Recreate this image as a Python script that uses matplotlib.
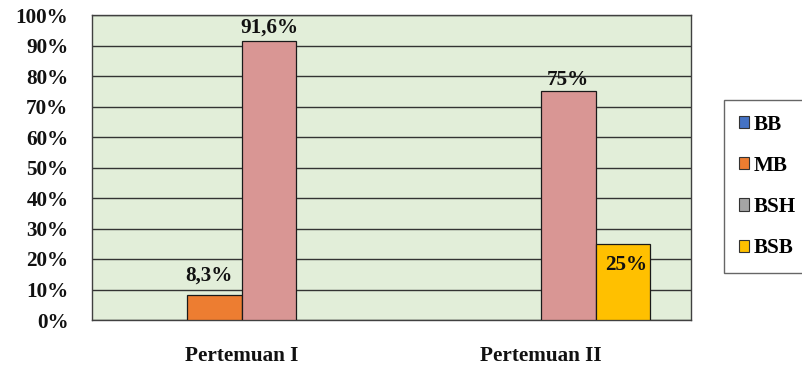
import matplotlib
matplotlib.use("Agg")
import matplotlib.pyplot as plt
import matplotlib.transforms as mtransforms
from matplotlib.patches import Patch
import numpy as np

categories = ["Pertemuan I", "Pertemuan II"]
series_names = ["BB", "MB", "BSH", "BSB"]
BB = [0, 0]
MB = [8.3, 0]
BSH = [91.6, 75]
BSB = [0, 25]
series_values = [BB, MB, BSH, BSB]
label_texts = {("MB", 0): "8,3%", ("BSH", 0): "91,6%", ("BSH", 1): "75%", ("BSB", 1): "25%"}
yticks = [0, 10, 20, 30, 40, 50, 60, 70, 80, 90, 100]
ytick_labels = [f"{v}%" for v in yticks]

bar_colors = ["#4472C4", "#ED7D31", "#D99694", "#FFC000"]
legend_colors = ["#4472C4", "#ED7D31", "#A5A5A5", "#FFC000"]
# label offsets in pixels (dx, dy of text center relative to bar top centre)
label_offsets = {("MB", 0): (-6, 19), ("BSH", 0): (0, 13), ("BSH", 1): (-1, 11), ("BSB", 1): (3, -21)}

FONT = "Liberation Serif"
FS = 15.2

fig = plt.figure(figsize=(8.02, 3.69), dpi=100)
ax = fig.add_axes([92/802, 1-320/369, (691-92)/802, (320-15)/369])
ax.set_facecolor("#E2EED9")

n = len(series_names)
width = 1.0 / (n + 1.5)
x = np.arange(len(categories))
for i, (name, vals) in enumerate(zip(series_names, series_values)):
    pos = x + (i - (n - 1) / 2) * width
    ax.bar(pos, vals, width=width, color=bar_colors[i],
           edgecolor=["#1a1a1a" if v > 0 else "none" for v in vals], linewidth=0.9, zorder=3)
    for j, v in enumerate(vals):
        key = (name, j)
        if key in label_texts:
            dx, dy = label_offsets[key]
            tr = ax.transData + mtransforms.ScaledTranslation(dx/100, dy/100, fig.dpi_scale_trans)
            ax.text(pos[j], v, label_texts[key], transform=tr, ha="center", va="center",
                    fontfamily=FONT, fontweight="bold", fontsize=FS, color="#111111", zorder=5)

ax.set_xlim(-0.5, len(categories) - 0.5)
ax.set_ylim(0, 100)
ax.set_yticks(yticks)
ax.set_yticklabels(ytick_labels)
ax.set_xticks(x)
ax.set_xticklabels(categories)
ax.yaxis.grid(True, color="#333333", linewidth=1.0, zorder=1)
ax.set_axisbelow(True)
ax.tick_params(axis="y", length=0, pad=17)
ax.tick_params(axis="x", length=0, pad=19)
for lab in ax.get_yticklabels() + ax.get_xticklabels():
    lab.set_fontfamily(FONT)
    lab.set_fontweight("bold")
    lab.set_fontsize(FS)
    lab.set_color("#111111")
for sp in ax.spines.values():
    sp.set_color("#404040")
    sp.set_linewidth(1.0)

handles = [Patch(facecolor=c, edgecolor="#333333", linewidth=0.8) for c in legend_colors]
leg = fig.legend(handles, series_names, loc="upper left", bbox_to_anchor=(724/802, 1-100/369),
                 bbox_transform=fig.transFigure, borderaxespad=0, frameon=True, fancybox=False,
                 handlelength=0.5, handleheight=0.5, handletextpad=0.2, labelspacing=1.0,
                 borderpad=0.7, prop={"family": FONT, "weight": "bold", "size": FS})
leg.get_frame().set_edgecolor("#404040")
leg.get_frame().set_linewidth(1.0)

fig.savefig("out.png", dpi=100)
